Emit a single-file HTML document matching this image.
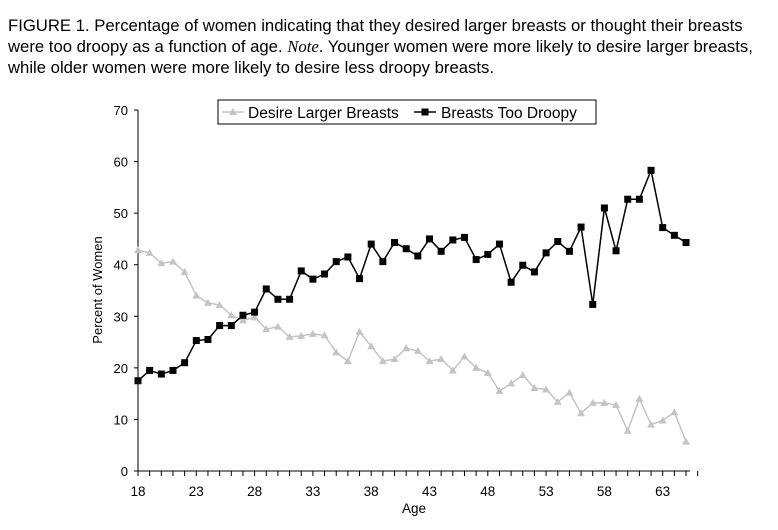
<!DOCTYPE html>
<html><head><meta charset="utf-8"><style>
body{margin:0;background:#fff;width:778px;height:530px;overflow:hidden;font-family:"Liberation Sans",Arial,sans-serif}
#cap{position:absolute;left:8px;top:15px;font-size:16.7px;line-height:21px;color:#000;white-space:nowrap}
</style></head><body>
<div id="cap">FIGURE 1. Percentage of women indicating that they desired larger breasts or thought their breasts<br>were too droopy as a function of age. <i style="font-family:'Liberation Serif',serif">Note</i>. Younger women were more likely to desire larger breasts,<br>while older women were more likely to desire less droopy breasts.</div>
<svg id="chart" width="778" height="530" style="position:absolute;left:0;top:0"></svg>
<script>
const ages=[18,19,20,21,22,23,24,25,26,27,28,29,30,31,32,33,34,35,36,37,38,39,40,41,42,43,44,45,46,47,48,49,50,51,52,53,54,55,56,57,58,59,60,61,62,63,64,65];
const droopy=[17.5,19.5,18.8,19.5,21,25.3,25.5,28.2,28.2,30.2,30.8,35.3,33.3,33.3,38.8,37.2,38.2,40.6,41.5,37.3,44,40.6,44.3,43.1,41.7,45,42.6,44.8,45.3,41,42,44,36.6,39.9,38.6,42.3,44.5,42.6,47.3,32.3,51,42.7,52.7,52.7,58.3,47.2,45.7,44.3];
const larger=[42.8,42.3,40.3,40.6,38.6,34,32.6,32.2,30.2,29.2,29.8,27.5,28,26,26.2,26.6,26.3,23,21.3,27,24.2,21.3,21.7,23.8,23.3,21.3,21.7,19.5,22.2,20,19,15.5,17,18.6,16.1,15.8,13.4,15.2,11.2,13.2,13.2,12.8,7.8,14,9,9.8,11.4,5.7];
const yTicks=[0,10,20,30,40,50,60,70];
const xTicks=[18,23,28,33,38,43,48,53,58,63];
const svg=document.getElementById('chart');const NS='http://www.w3.org/2000/svg';
const X=a=>138+(a-18)*11.66, Y=v=>471-v*5.157;
function mk(t,at,p){const e=document.createElementNS(NS,t);for(const k in at)e.setAttribute(k,at[k]);(p||svg).appendChild(e);return e;}
let g=mk('g',{});
mk('line',{x1:138,y1:110,x2:138,y2:471,stroke:'#000'},g);
yTicks.forEach(v=>{mk('line',{x1:134,y1:Y(v),x2:138,y2:Y(v),stroke:'#000'},g);const t=mk('text',{x:128,y:Y(v)+5,'text-anchor':'end','font-size':13},g);t.textContent=v;});
let gx=mk('g',{});
mk('line',{x1:138,y1:471,x2:690,y2:471,stroke:'#000'},gx);
for(let a=18;a<=66;a++)mk('line',{x1:X(a),y1:471,x2:X(a),y2:476,stroke:'#000'},gx);
xTicks.forEach(a=>{const t=mk('text',{x:X(a),y:496,'text-anchor':'middle','font-size':13.5},gx);t.textContent=a;});
let t=mk('text',{x:414,y:513,'text-anchor':'middle','font-size':13.5});t.textContent='Age';

t=mk('text',{x:0,y:0,'text-anchor':'middle','font-size':13,transform:'translate(102,290) rotate(-90)'});t.textContent='Percent of Women';

function series(vals,col,shape,name){const gg=mk('g',{});
mk('polyline',{points:ages.map((a,i)=>X(a)+','+Y(vals[i])).join(' '),fill:'none',stroke:col,'stroke-width':1.5},gg);
ages.forEach((a,i)=>{const x=X(a),y=Y(vals[i]);if(shape==='sq')mk('rect',{x:x-3.5,y:y-3.5,width:7,height:7,fill:col},gg);else mk('polygon',{points:`${x},${y-4} ${x-4},${y+3} ${x+4},${y+3}`,fill:col},gg);});}
series(larger,'#c4c4c4','tri','series-desire-larger');
series(droopy,'#000','sq','series-too-droopy');
let lg=mk('g',{});
mk('rect',{x:218,y:100,width:378,height:24,fill:'#fff',stroke:'#000'},lg);
mk('line',{x1:222,y1:112,x2:244,y2:112,stroke:'#c4c4c4','stroke-width':1.5},lg);mk('polygon',{points:'233,108 229,115 237,115',fill:'#c4c4c4'},lg);
t=mk('text',{x:248,y:118,'font-size':15.5},lg);t.textContent='Desire Larger Breasts';
mk('line',{x1:414,y1:112,x2:436,y2:112,stroke:'#000','stroke-width':1.5},lg);mk('rect',{x:421.5,y:108.5,width:7,height:7},lg);
t=mk('text',{x:441,y:118,'font-size':15.5},lg);t.textContent='Breasts Too Droopy';
</script></body></html>
